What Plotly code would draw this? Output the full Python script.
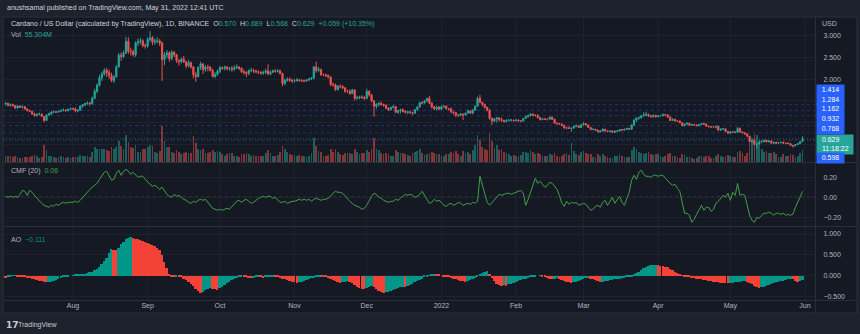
import pandas as pd
import plotly.graph_objects as go

# ---------------------------------------------------------------------------
# ADA/USD daily bars, 2021-07-04 .. 2022-05-31 (one entry per day, by month)
# ---------------------------------------------------------------------------
START_DATE = "2021-07-04"
FIRST_OPEN = 1.430

CLOSE_JUL = [1.445, 1.393, 1.418, 1.393, 1.338, 1.386, 1.352, 1.372, 1.315, 1.275,
             1.264, 1.204, 1.164, 1.196, 1.200, 1.145, 1.051, 1.178, 1.202, 1.246,
             1.250, 1.244, 1.263, 1.286, 1.291, 1.278, 1.310, 1.322]
CLOSE_AUG = [1.318, 1.270, 1.290, 1.382, 1.410, 1.440, 1.455, 1.440, 1.560, 1.720,
             1.860, 2.030, 2.120, 2.200, 2.150, 2.080, 1.970, 2.050, 2.280, 2.550,
             2.520, 2.600, 2.870, 2.640, 2.630, 2.560, 2.830, 2.860, 2.880, 2.770,
             2.760]
CLOSE_SEP = [2.910, 2.950, 2.850, 2.870, 2.880, 2.830, 2.450, 2.560, 2.600, 2.470,
             2.620, 2.560, 2.420, 2.400, 2.460, 2.400, 2.300, 2.380, 2.280, 2.100,
             2.060, 2.270, 2.350, 2.220, 2.280, 2.270, 2.200, 2.060, 2.110, 2.180]
CLOSE_OCT = [2.260, 2.250, 2.280, 2.240, 2.250, 2.230, 2.260, 2.280, 2.250, 2.170,
             2.160, 2.130, 2.200, 2.200, 2.180, 2.170, 2.160, 2.140, 2.150, 2.190,
             2.120, 2.160, 2.190, 2.180, 2.190, 2.130, 1.900, 1.970, 2.000, 1.970,
             1.960]
CLOSE_NOV = [1.970, 1.980, 1.970, 1.960, 1.960, 1.980, 2.000, 2.020, 2.280, 2.200,
             2.220, 2.100, 2.100, 2.080, 2.050, 1.880, 1.870, 1.760, 1.840, 1.830,
             1.800, 1.720, 1.720, 1.670, 1.750, 1.560, 1.570, 1.590, 1.580, 1.560]
CLOSE_DEC = [1.720, 1.640, 1.500, 1.380, 1.420, 1.440, 1.420, 1.400, 1.330, 1.300,
             1.350, 1.370, 1.240, 1.280, 1.300, 1.260, 1.240, 1.250, 1.230, 1.220,
             1.300, 1.360, 1.460, 1.450, 1.500, 1.560, 1.450, 1.360, 1.320, 1.360,
             1.310]
CLOSE_JAN = [1.370, 1.380, 1.320, 1.320, 1.250, 1.230, 1.180, 1.170, 1.200, 1.180,
             1.220, 1.270, 1.220, 1.290, 1.380, 1.560, 1.470, 1.420, 1.350, 1.290,
             1.100, 1.040, 1.090, 1.110, 1.070, 1.050, 1.030, 1.060, 1.060, 1.060,
             1.050]
CLOSE_FEB = [1.060, 1.040, 1.040, 1.100, 1.140, 1.160, 1.200, 1.170, 1.170, 1.120,
             1.070, 1.090, 1.080, 1.080, 1.130, 1.080, 0.990, 0.980, 0.970, 0.940,
             0.880, 0.880, 0.870, 0.880, 0.920, 0.930, 0.890, 0.950]
CLOSE_MAR = [0.980, 0.950, 0.890, 0.840, 0.850, 0.830, 0.790, 0.810, 0.850, 0.810,
             0.800, 0.810, 0.780, 0.810, 0.810, 0.840, 0.830, 0.850, 0.870, 0.850,
             0.950, 1.060, 1.110, 1.120, 1.160, 1.180, 1.190, 1.150, 1.140, 1.170,
             1.140]
CLOSE_APR = [1.160, 1.160, 1.190, 1.180, 1.130, 1.050, 1.080, 1.040, 1.040, 1.000,
             0.930, 0.970, 0.990, 0.940, 0.960, 0.950, 0.930, 0.960, 0.980, 0.960,
             0.920, 0.910, 0.900, 0.900, 0.920, 0.830, 0.850, 0.860, 0.800, 0.760]
CLOSE_MAY = [0.790, 0.790, 0.780, 0.870, 0.790, 0.770, 0.740, 0.690, 0.570, 0.600,
             0.500, 0.510, 0.560, 0.570, 0.600, 0.560, 0.580, 0.530, 0.550, 0.530,
             0.540, 0.550, 0.530, 0.530, 0.520, 0.480, 0.470, 0.500, 0.520, 0.570,
             0.629]

HIGH_JUL = [1.48, 1.46, 1.44, 1.44, 1.40, 1.40, 1.40, 1.39, 1.38, 1.33,
            1.30, 1.27, 1.23, 1.21, 1.23, 1.21, 1.15, 1.19, 1.23, 1.26,
            1.28, 1.27, 1.28, 1.30, 1.33, 1.31, 1.32, 1.35]
HIGH_AUG = [1.35, 1.35, 1.31, 1.40, 1.43, 1.46, 1.49, 1.48, 1.60, 1.78,
            1.90, 2.10, 2.17, 2.25, 2.26, 2.22, 2.15, 2.10, 2.32, 2.60,
            2.62, 2.66, 2.97, 2.96, 2.72, 2.68, 2.87, 2.93, 2.95, 2.92,
            2.82]
HIGH_SEP = [2.96, 3.10, 2.99, 2.93, 2.96, 2.92, 2.86, 2.62, 2.67, 2.64,
            2.66, 2.64, 2.58, 2.46, 2.50, 2.53, 2.42, 2.44, 2.40, 2.30,
            2.17, 2.29, 2.40, 2.37, 2.32, 2.33, 2.30, 2.24, 2.16, 2.22]
HIGH_OCT = [2.30, 2.29, 2.31, 2.30, 2.28, 2.30, 2.32, 2.34, 2.30, 2.27,
            2.22, 2.18, 2.22, 2.26, 2.24, 2.22, 2.20, 2.18, 2.20, 2.24,
            2.34, 2.20, 2.22, 2.23, 2.23, 2.22, 2.15, 2.01, 2.04, 2.04,
            2.01]
HIGH_NOV = [2.00, 2.03, 2.01, 2.00, 1.99, 2.00, 2.03, 2.05, 2.30, 2.40,
            2.28, 2.24, 2.13, 2.13, 2.11, 2.06, 1.92, 1.90, 1.86, 1.88,
            1.86, 1.82, 1.76, 1.77, 1.78, 1.77, 1.62, 1.62, 1.63, 1.61]
HIGH_DEC = [1.78, 1.74, 1.66, 1.52, 1.45, 1.48, 1.49, 1.44, 1.42, 1.36,
            1.37, 1.40, 1.38, 1.29, 1.32, 1.33, 1.29, 1.27, 1.28, 1.25,
            1.31, 1.38, 1.48, 1.49, 1.52, 1.57, 1.62, 1.47, 1.39, 1.38,
            1.38]
HIGH_JAN = [1.39, 1.40, 1.40, 1.34, 1.35, 1.26, 1.25, 1.20, 1.22, 1.21,
            1.23, 1.30, 1.29, 1.31, 1.40, 1.60, 1.64, 1.48, 1.44, 1.37,
            1.31, 1.12, 1.11, 1.13, 1.13, 1.12, 1.07, 1.08, 1.08, 1.08,
            1.07]
HIGH_FEB = [1.08, 1.08, 1.06, 1.11, 1.17, 1.18, 1.22, 1.21, 1.19, 1.19,
            1.13, 1.10, 1.10, 1.09, 1.14, 1.14, 1.09, 1.01, 1.00, 0.98,
            0.95, 0.91, 0.92, 0.89, 0.93, 0.96, 0.94, 0.97]
HIGH_MAR = [1.01, 0.99, 0.96, 0.90, 0.87, 0.86, 0.84, 0.83, 0.87, 0.86,
            0.83, 0.83, 0.82, 0.82, 0.83, 0.85, 0.86, 0.86, 0.88, 0.88,
            0.96, 1.08, 1.12, 1.14, 1.17, 1.24, 1.25, 1.21, 1.18, 1.19,
            1.18]
HIGH_APR = [1.17, 1.18, 1.21, 1.20, 1.19, 1.14, 1.10, 1.09, 1.06, 1.05,
            1.01, 0.98, 1.00, 1.00, 0.97, 0.97, 0.96, 0.97, 0.99, 1.00,
            0.99, 0.93, 0.92, 0.91, 0.93, 0.93, 0.87, 0.88, 0.87, 0.81]
HIGH_MAY = [0.80, 0.81, 0.80, 0.90, 0.89, 0.80, 0.78, 0.75, 0.70, 0.65,
            0.62, 0.53, 0.60, 0.60, 0.61, 0.61, 0.60, 0.59, 0.56, 0.57,
            0.55, 0.56, 0.57, 0.54, 0.55, 0.53, 0.49, 0.50, 0.53, 0.58,
            0.689]

LOW_JUL = [1.40, 1.38, 1.37, 1.37, 1.32, 1.32, 1.34, 1.33, 1.30, 1.26,
           1.24, 1.18, 1.14, 1.14, 1.17, 1.13, 1.02, 1.04, 1.15, 1.18,
           1.22, 1.22, 1.23, 1.25, 1.26, 1.25, 1.26, 1.30]
LOW_AUG = [1.29, 1.24, 1.24, 1.27, 1.34, 1.38, 1.41, 1.39, 1.41, 1.54,
           1.68, 1.83, 1.96, 2.08, 2.05, 2.01, 1.93, 1.91, 2.04, 2.27,
           2.42, 2.48, 2.58, 2.58, 2.54, 2.52, 2.51, 2.76, 2.80, 2.73,
           2.70]
LOW_SEP = [2.72, 2.86, 2.78, 2.79, 2.82, 2.76, 1.96, 2.32, 2.48, 2.40,
           2.43, 2.51, 2.37, 2.31, 2.36, 2.37, 2.25, 2.27, 2.24, 2.02,
           1.94, 2.04, 2.21, 2.12, 2.17, 2.18, 2.18, 2.04, 2.02, 2.08]
LOW_OCT = [2.14, 2.21, 2.20, 2.20, 2.19, 2.17, 2.19, 2.23, 2.21, 2.14,
           2.10, 2.05, 2.09, 2.16, 2.14, 2.13, 2.12, 2.10, 2.10, 2.12,
           2.09, 2.09, 2.14, 2.15, 2.15, 2.11, 1.84, 1.86, 1.94, 1.94,
           1.91]
LOW_NOV = [1.92, 1.94, 1.94, 1.93, 1.93, 1.94, 1.96, 1.98, 2.01, 2.15,
           2.17, 2.08, 2.07, 2.05, 2.02, 1.84, 1.83, 1.73, 1.74, 1.79,
           1.77, 1.69, 1.68, 1.64, 1.66, 1.51, 1.53, 1.54, 1.55, 1.52]
LOW_DEC = [1.54, 1.60, 1.47, 1.14, 1.32, 1.37, 1.39, 1.37, 1.31, 1.27,
           1.28, 1.33, 1.22, 1.20, 1.22, 1.24, 1.21, 1.20, 1.21, 1.18,
           1.20, 1.28, 1.35, 1.42, 1.44, 1.48, 1.43, 1.33, 1.29, 1.29,
           1.29]
LOW_JAN = [1.30, 1.34, 1.30, 1.28, 1.22, 1.19, 1.13, 1.13, 1.15, 1.06,
           1.16, 1.21, 1.20, 1.20, 1.27, 1.37, 1.45, 1.38, 1.33, 1.26,
           1.07, 0.95, 1.01, 1.00, 1.03, 1.02, 1.00, 1.01, 1.03, 1.03,
           1.02]
LOW_FEB = [1.03, 1.03, 1.01, 1.03, 1.09, 1.12, 1.15, 1.15, 1.14, 1.10,
           1.05, 1.06, 1.06, 1.05, 1.07, 1.07, 0.98, 0.96, 0.95, 0.93,
           0.86, 0.85, 0.86, 0.79, 0.86, 0.90, 0.88, 0.88]
LOW_MAR = [0.93, 0.94, 0.88, 0.83, 0.83, 0.81, 0.78, 0.78, 0.80, 0.80,
           0.78, 0.79, 0.77, 0.77, 0.79, 0.80, 0.82, 0.82, 0.84, 0.84,
           0.84, 0.93, 1.02, 1.07, 1.09, 1.14, 1.15, 1.13, 1.12, 1.12,
           1.12]
LOW_APR = [1.12, 1.14, 1.15, 1.15, 1.11, 1.04, 1.04, 1.03, 1.03, 0.99,
           0.92, 0.92, 0.95, 0.93, 0.93, 0.94, 0.92, 0.92, 0.95, 0.95,
           0.91, 0.89, 0.89, 0.88, 0.87, 0.82, 0.82, 0.84, 0.79, 0.75]
LOW_MAY = [0.75, 0.76, 0.76, 0.77, 0.77, 0.76, 0.73, 0.67, 0.55, 0.53,
           0.48, 0.40, 0.49, 0.54, 0.55, 0.55, 0.55, 0.52, 0.51, 0.51,
           0.52, 0.53, 0.52, 0.51, 0.51, 0.47, 0.43, 0.46, 0.49, 0.51,
           0.568]

# daily volume, millions
VOL_JUL = [30, 28, 26, 25, 27, 24, 20, 18, 22, 24, 22, 30, 32, 26, 20, 24, 80, 55, 30, 28,
           22, 18, 22, 26, 24, 20, 22, 20]
VOL_AUG = [22, 25, 24, 32, 30, 28, 26, 22, 48, 70, 62, 60, 58, 62, 55, 52, 68, 60, 70, 95,
           72, 60, 125, 92, 70, 64, 80, 48, 45, 62, 58]
VOL_SEP = [70, 80, 72, 45, 42, 50, 165, 95, 70, 68, 48, 40, 55, 45, 38, 42, 45, 40, 42, 118,
           90, 62, 55, 58, 42, 40, 45, 55, 45, 50]
VOL_OCT = [48, 38, 30, 36, 40, 42, 30, 28, 25, 38, 35, 40, 38, 30, 34, 28, 30, 28, 30, 42,
           55, 40, 30, 28, 32, 45, 76, 60, 45, 35, 32]
VOL_NOV = [34, 30, 32, 30, 28, 24, 26, 40, 110, 75, 50, 45, 30, 28, 34, 60, 48, 58, 45, 35,
           32, 40, 42, 40, 38, 62, 45, 38, 40, 42]
VOL_DEC = [55, 48, 60, 110, 62, 55, 42, 38, 40, 35, 30, 28, 55, 48, 42, 40, 38, 32, 28, 42,
           45, 50, 60, 42, 32, 35, 40, 48, 40, 35, 38]
VOL_JAN = [30, 28, 38, 35, 48, 42, 52, 35, 30, 50, 40, 45, 35, 55, 80, 125, 100, 70, 60, 55,
           135, 95, 65, 80, 55, 60, 48, 40, 35, 30, 32]
VOL_FEB = [30, 28, 32, 45, 48, 40, 55, 45, 35, 42, 38, 28, 26, 30, 38, 32, 40, 30, 25, 28,
           38, 40, 32, 90, 50, 35, 32, 45]
VOL_MAR = [50, 40, 35, 38, 22, 22, 35, 30, 35, 30, 25, 18, 20, 28, 26, 35, 28, 25, 24, 22,
           55, 68, 58, 45, 42, 38, 40, 45, 35, 32, 38]
VOL_APR = [35, 28, 22, 30, 35, 40, 30, 28, 22, 20, 38, 32, 25, 22, 18, 16, 18, 28, 26, 24,
           30, 28, 20, 18, 30, 38, 28, 25, 30, 32]
VOL_MAY = [28, 25, 24, 45, 50, 40, 28, 42, 110, 95, 130, 125, 80, 60, 48, 50, 42, 40, 45, 38,
           25, 22, 35, 28, 30, 35, 32, 25, 30, 42, 55.304]

# Chaikin Money Flow (20)
CMF_JUL = [0.01, 0.00, 0.01, 0.00, 0.01, 0.00, 0.03, 0.07, 0.06, 0.02,
           0.07, 0.05, 0.02, -0.01, -0.04, -0.06, -0.08, -0.09, -0.10, -0.08,
           -0.09, -0.07, -0.08, -0.06, -0.05, -0.06, -0.05, -0.05]
CMF_AUG = [-0.05, -0.04, -0.05, -0.03, 0.00, 0.02, 0.05, 0.08, 0.10, 0.12,
           0.14, 0.18, 0.22, 0.25, 0.26, 0.22, 0.17, 0.18, 0.24, 0.27,
           0.22, 0.26, 0.28, 0.26, 0.23, 0.25, 0.22, 0.20, 0.21, 0.21,
           0.18]
CMF_SEP = [0.15, 0.13, 0.11, 0.12, 0.10, 0.08, 0.10, 0.06, 0.03, 0.01,
           0.00, 0.03, 0.01, 0.02, 0.00, -0.02, -0.03, -0.05, -0.06, -0.04,
           -0.05, -0.03, -0.02, -0.03, -0.02, -0.05, -0.08, -0.11, -0.12, -0.13]
CMF_OCT = [-0.12, -0.13, -0.12, -0.11, -0.12, -0.09, -0.06, -0.04, -0.03, -0.05,
           -0.03, -0.02, -0.04, -0.06, -0.05, -0.03, -0.01, 0.00, 0.01, 0.00,
           0.01, 0.01, -0.01, 0.00, -0.03, -0.05, -0.05, -0.04, -0.06, -0.05,
           -0.04]
CMF_NOV = [-0.04, -0.03, -0.02, -0.03, -0.02, -0.03, -0.02, -0.04, -0.02, -0.01,
           -0.02, -0.03, -0.02, -0.02, -0.01, 0.01, 0.04, 0.06, 0.05, 0.05,
           0.04, 0.01, -0.02, -0.04, -0.06, -0.08, -0.09, -0.10, -0.12, -0.11]
CMF_DEC = [-0.08, -0.03, 0.01, 0.04, 0.03, 0.00, -0.01, -0.03, -0.04, -0.05,
           -0.04, -0.04, -0.02, -0.03, -0.01, 0.01, 0.03, 0.02, 0.03, 0.02,
           0.00, 0.01, 0.03, 0.06, 0.02, -0.03, -0.06, -0.05, -0.02, -0.04,
           -0.03]
CMF_JAN = [-0.05, -0.08, -0.09, -0.07, -0.06, -0.08, -0.07, -0.05, -0.06, -0.08,
           -0.07, -0.06, -0.07, -0.05, -0.06, -0.04, 0.21, 0.12, 0.02, -0.05,
           -0.08, -0.05, -0.02, 0.01, 0.03, 0.02, 0.03, 0.04, 0.04, 0.03,
           0.04]
CMF_FEB = [0.05, 0.06, 0.07, 0.04, -0.08, -0.02, 0.05, 0.12, 0.19, 0.14,
           0.16, 0.13, 0.10, 0.12, 0.15, 0.14, 0.11, 0.08, 0.02, -0.06,
           -0.09, -0.04, -0.07, -0.05, -0.06, -0.05, -0.08, -0.07]
CMF_MAR = [-0.06, -0.07, -0.10, -0.13, -0.12, -0.09, -0.08, -0.10, -0.05, -0.03,
           -0.08, -0.04, 0.00, -0.06, -0.03, 0.01, -0.05, -0.08, -0.01, 0.05,
           0.17, 0.22, 0.18, 0.25, 0.27, 0.23, 0.21, 0.21, 0.20, 0.22,
           0.22]
CMF_APR = [0.21, 0.22, 0.22, 0.19, 0.16, 0.14, 0.12, 0.13, 0.09, 0.06,
           -0.05, -0.16, -0.16, -0.18, -0.25, -0.22, -0.17, -0.12, -0.08, -0.13,
           -0.10, -0.10, -0.14, -0.12, -0.06, -0.04, -0.01, 0.02, 0.00, 0.04]
CMF_MAY = [-0.03, 0.05, 0.02, 0.14, 0.02, 0.03, 0.02, -0.08, -0.18, -0.23,
           -0.25, -0.20, -0.21, -0.18, -0.16, -0.16, -0.15, -0.16, -0.18, -0.16,
           -0.16, -0.17, -0.16, -0.18, -0.17, -0.18, -0.17, -0.10, -0.05, 0.01,
           0.06]

# Awesome Oscillator
AO_JUL = [-0.06, -0.03, -0.01, 0.005, 0.012, -0.01, -0.02, -0.03, -0.04, -0.05,
          -0.06, -0.07, -0.09, -0.10, -0.12, -0.13, -0.15, -0.16, -0.15, -0.14,
          -0.12, -0.10, -0.08, -0.06, -0.04, -0.03, -0.01, 0.00]
AO_AUG = [0.01, 0.02, 0.025, 0.03, 0.04, 0.05, 0.06, 0.08, 0.10, 0.13,
          0.17, 0.22, 0.28, 0.35, 0.43, 0.55, 0.63, 0.62, 0.61, 0.67,
          0.75, 0.82, 0.87, 0.91, 0.93, 0.91, 0.89, 0.87, 0.85, 0.83,
          0.81]
AO_SEP = [0.79, 0.77, 0.74, 0.71, 0.67, 0.62, 0.50, 0.32, 0.18, 0.05,
          -0.01, -0.02, -0.01, -0.02, -0.04, -0.07, -0.10, -0.14, -0.19, -0.25,
          -0.31, -0.37, -0.41, -0.39, -0.35, -0.31, -0.29, -0.31, -0.33, -0.34]
AO_OCT = [-0.30, -0.26, -0.22, -0.18, -0.14, -0.11, -0.08, -0.06, -0.04, -0.02,
          -0.03, -0.04, -0.05, -0.06, -0.05, -0.04, -0.03, -0.04, -0.05, -0.04,
          -0.03, -0.02, -0.01, -0.02, -0.03, -0.05, -0.07, -0.09, -0.11, -0.13,
          -0.15]
AO_NOV = [-0.16, -0.17, -0.16, -0.14, -0.12, -0.10, -0.08, -0.06, -0.05, -0.03,
          -0.02, -0.025, -0.01, -0.03, -0.05, -0.08, -0.10, -0.13, -0.15, -0.17,
          -0.16, -0.14, -0.13, -0.15, -0.18, -0.22, -0.26, -0.29, -0.31, -0.33]
AO_DEC = [-0.30, -0.27, -0.25, -0.28, -0.32, -0.36, -0.39, -0.41, -0.40, -0.38,
          -0.36, -0.34, -0.32, -0.30, -0.28, -0.26, -0.27, -0.25, -0.22, -0.19,
          -0.16, -0.13, -0.10, -0.07, -0.04, -0.02, 0.01, 0.03, 0.05, 0.04,
          0.02]
AO_JAN = [0.00, -0.01, -0.02, -0.03, -0.05, -0.07, -0.09, -0.10, -0.12, -0.13,
          -0.14, -0.13, -0.11, -0.08, -0.05, -0.02, 0.02, 0.06, 0.09, 0.11,
          0.05, -0.05, -0.13, -0.19, -0.23, -0.25, -0.22, -0.24, -0.21, -0.19,
          -0.17]
AO_FEB = [-0.15, -0.13, -0.11, -0.09, -0.07, -0.05, -0.03, -0.02, -0.01, 0.00,
          0.005, -0.01, -0.03, -0.05, -0.07, -0.08, -0.07, -0.065, -0.08, -0.10,
          -0.12, -0.14, -0.16, -0.18, -0.16, -0.14, -0.12, -0.10]
AO_MAR = [-0.08, -0.06, -0.05, -0.07, -0.09, -0.11, -0.13, -0.15, -0.14, -0.13,
          -0.12, -0.11, -0.10, -0.09, -0.08, -0.07, -0.06, -0.05, -0.04, -0.02,
          -0.01, 0.02, 0.06, 0.10, 0.14, 0.18, 0.21, 0.23, 0.25, 0.26,
          0.265]
AO_APR = [0.25, 0.24, 0.23, 0.22, 0.20, 0.17, 0.14, 0.10, 0.06, 0.03,
          0.01, -0.01, -0.03, -0.04, -0.05, -0.06, -0.07, -0.08, -0.09, -0.10,
          -0.11, -0.12, -0.13, -0.14, -0.15, -0.16, -0.17, -0.175, -0.18, -0.185]
AO_MAY = [-0.18, -0.17, -0.16, -0.15, -0.14, -0.13, -0.12, -0.14, -0.17, -0.21,
          -0.25, -0.28, -0.29, -0.28, -0.26, -0.24, -0.22, -0.20, -0.18, -0.16,
          -0.14, -0.13, -0.12, -0.10, -0.09, -0.07, -0.09, -0.12, -0.14, -0.13,
          -0.111]

# horizontal price levels marked on the chart
PRICE_LEVELS = [1.414, 1.284, 1.162, 0.932, 0.768, 0.598]
COUNTDOWN = "11:18:22"

# time-axis labels
MONTH_TICKS = ["2021-08-01", "2021-09-01", "2021-10-01", "2021-11-01", "2021-12-01",
               "2022-01-01", "2022-02-01", "2022-03-01", "2022-04-01", "2022-05-01",
               "2022-06-01"]
MONTH_LABELS = ["Aug", "Sep", "Oct", "Nov", "Dec", "2022", "Feb", "Mar", "Apr", "May", "Jun"]

PRICE_TICKS = [0.5, 1.0, 1.5, 2.0, 2.5, 3.0]
PRICE_TICK_TEXT = ["", "", "", "2.000", "2.500", "3.000"]
CMF_TICKS = [-0.2, 0.0, 0.2]
CMF_TICK_TEXT = ["\u22120.20", "0.00", "0.20"]
AO_TICKS = [-0.5, 0.0, 0.5, 1.0]
AO_TICK_TEXT = ["\u22120.500", "0.000", "0.500", "1.000"]

# ---------------------------------------------------------------------------
CLOSE = (CLOSE_JUL + CLOSE_AUG + CLOSE_SEP + CLOSE_OCT + CLOSE_NOV + CLOSE_DEC
         + CLOSE_JAN + CLOSE_FEB + CLOSE_MAR + CLOSE_APR + CLOSE_MAY)
HIGH = (HIGH_JUL + HIGH_AUG + HIGH_SEP + HIGH_OCT + HIGH_NOV + HIGH_DEC
        + HIGH_JAN + HIGH_FEB + HIGH_MAR + HIGH_APR + HIGH_MAY)
LOW = (LOW_JUL + LOW_AUG + LOW_SEP + LOW_OCT + LOW_NOV + LOW_DEC
       + LOW_JAN + LOW_FEB + LOW_MAR + LOW_APR + LOW_MAY)
VOLUME = (VOL_JUL + VOL_AUG + VOL_SEP + VOL_OCT + VOL_NOV + VOL_DEC
          + VOL_JAN + VOL_FEB + VOL_MAR + VOL_APR + VOL_MAY)
CMF = (CMF_JUL + CMF_AUG + CMF_SEP + CMF_OCT + CMF_NOV + CMF_DEC
       + CMF_JAN + CMF_FEB + CMF_MAR + CMF_APR + CMF_MAY)
AO = (AO_JUL + AO_AUG + AO_SEP + AO_OCT + AO_NOV + AO_DEC
      + AO_JAN + AO_FEB + AO_MAR + AO_APR + AO_MAY)
assert len(CLOSE) == len(HIGH) == len(LOW) == len(VOLUME) == len(CMF) == len(AO)

# a 24h market: each bar opens where the previous one closed
OPEN = [FIRST_OPEN] + CLOSE[:-1]
DATES = pd.date_range(START_DATE, periods=len(CLOSE), freq="D")
DAY_MS = 86400000

# ---------------------------------------------------------------------------
# styling
W, H = 860, 334
ML, MR, MT, MB = 3, 45, 17, 34           # plot area: x 3..815, y 17..300
PW, PH = W - ML - MR, H - MT - MB

def xp(px):
    return (px - ML) / PW

def yp(py):
    return (MT + PH - py) / PH

MAIN_PX = (17, 162)
CMF_PX = (163, 226)
AO_PX = (227, 300)

PRICE_RANGE = [0.0987, 3.4267]
VOL_RANGE = [0, 670]
CMF_RANGE = [-0.287, 0.343]
AO_RANGE = [-0.583, 1.168]
X_RANGE = ["2021-07-02 22:20", "2022-06-05 03:36"]

OUTER = "#1e222d"
PANE = "#151924"
GRID = "#1f2330"
SEP = "#2a2e39"
TEXT = "#d1d4dc"
AXIS_TEXT = "#b2b5be"
UP = "#26a69a"
DOWN = "#ef5350"
UP_VOL = "rgba(38,166,154,0.5)"
DOWN_VOL = "rgba(239,83,80,0.5)"
AO_UP = "#009688"
AO_DOWN = "#f44336"
CMF_COLOR = "#43a047"
TAG_BLUE = "#2962ff"
LEVEL_LINE = "rgba(41,98,255,0.38)"
FONT = "Liberation Sans, Arial, sans-serif"
FS = 7

vol_colors = [UP_VOL if c >= o else DOWN_VOL for o, c in zip(OPEN, CLOSE)]
ao_colors = [AO_DOWN] + [AO_UP if AO[i] >= AO[i - 1] else AO_DOWN for i in range(1, len(AO))]

fig = go.Figure()
fig.add_trace(go.Bar(x=DATES, y=VOLUME, width=0.72 * DAY_MS, yaxis="y",
                     marker=dict(color=vol_colors, line_width=0), hoverinfo="skip"))
fig.add_trace(go.Candlestick(
    x=DATES, open=OPEN, high=HIGH, low=LOW, close=CLOSE, yaxis="y2",
    increasing=dict(line=dict(color=UP, width=1), fillcolor=UP),
    decreasing=dict(line=dict(color=DOWN, width=1), fillcolor=DOWN),
    whiskerwidth=0, hoverinfo="skip"))
fig.add_trace(go.Scatter(x=DATES, y=CMF, mode="lines", yaxis="y3",
                         line=dict(color=CMF_COLOR, width=1), hoverinfo="skip"))
fig.add_trace(go.Bar(x=DATES, y=AO, width=0.78 * DAY_MS, yaxis="y4",
                     marker=dict(color=ao_colors, line_width=0), hoverinfo="skip"))

axis_font = dict(family=FONT, size=FS, color=AXIS_TEXT)
common_y = dict(side="right", zeroline=False, showline=False, ticks="outside", ticklen=6,
                tickcolor="rgba(0,0,0,0)", tickfont=axis_font, showgrid=True,
                gridcolor=GRID, gridwidth=1, fixedrange=True)

fig.update_layout(
    width=W, height=H, margin=dict(l=ML, r=MR, t=MT, b=MB),
    paper_bgcolor=OUTER, plot_bgcolor="rgba(0,0,0,0)", showlegend=False,
    font=dict(family=FONT, size=FS, color=TEXT), bargap=0,
    xaxis=dict(type="date", range=X_RANGE, tickvals=MONTH_TICKS, ticktext=MONTH_LABELS,
               showgrid=False, zeroline=False, showline=False, ticks="",
               tickfont=axis_font, rangeslider=dict(visible=False), anchor="y4",
               fixedrange=True),
    yaxis=dict(domain=[yp(MAIN_PX[1]), yp(MAIN_PX[0])], range=VOL_RANGE, visible=False,
               fixedrange=True),
    yaxis2=dict(overlaying="y", range=PRICE_RANGE, tickvals=PRICE_TICKS,
                ticktext=PRICE_TICK_TEXT, anchor="x", **common_y),
    yaxis3=dict(domain=[yp(CMF_PX[1]), yp(CMF_PX[0])], range=CMF_RANGE, tickvals=CMF_TICKS,
                ticktext=CMF_TICK_TEXT, anchor="x", **common_y),
    yaxis4=dict(domain=[yp(AO_PX[1]), yp(AO_PX[0])], range=AO_RANGE, tickvals=AO_TICKS,
                ticktext=AO_TICK_TEXT, anchor="x", **common_y),
)

shapes = []
# chart frame background (plot area plus price scale and time scale)
shapes.append(dict(type="rect", xref="paper", yref="paper", x0=xp(3), x1=xp(857),
                   y0=yp(313), y1=yp(17), fillcolor=PANE, line=dict(color=SEP, width=1),
                   layer="below"))
# vertical month grid
for d in MONTH_TICKS:
    shapes.append(dict(type="line", xref="x", yref="paper", x0=d, x1=d, y0=0, y1=1,
                       line=dict(color=GRID, width=1), layer="below"))
# pane separators, price-scale border, time-scale border
for py in (162.5, 226.5, 300.5):
    shapes.append(dict(type="line", xref="paper", yref="paper", x0=xp(3), x1=xp(857),
                       y0=yp(py), y1=yp(py), line=dict(color=SEP, width=1), layer="below"))
shapes.append(dict(type="line", xref="paper", yref="paper", x0=xp(815.5), x1=xp(815.5),
                   y0=yp(313), y1=yp(17), line=dict(color=SEP, width=1), layer="below"))
# marked price levels
for lv in PRICE_LEVELS:
    shapes.append(dict(type="line", xref="paper", yref="y2", x0=0, x1=1, y0=lv, y1=lv,
                       line=dict(color=LEVEL_LINE, width=1, dash="3px,3px"), layer="below"))
# last price line
LAST = CLOSE[-1]
shapes.append(dict(type="line", xref="paper", yref="y2", x0=0, x1=1, y0=LAST, y1=LAST,
                   line=dict(color="rgba(38,166,154,0.6)", width=1, dash="1px,2px"),
                   layer="below"))
# CMF zero line
shapes.append(dict(type="line", xref="paper", yref="y3", x0=0, x1=1, y0=0, y1=0,
                   line=dict(color="#787b86", width=1, dash="3px,3px"), layer="below"))
fig.update_layout(shapes=shapes)


def price_px(p):
    return MAIN_PX[0] + (PRICE_RANGE[1] - p) / (PRICE_RANGE[1] - PRICE_RANGE[0]) * (MAIN_PX[1] - MAIN_PX[0])


ann = []


def label(px, py, text, size=FS, color=TEXT, family=FONT, xanchor="left"):
    ann.append(dict(xref="paper", yref="paper", x=xp(px), y=yp(py), text=text,
                    showarrow=False, xanchor=xanchor, yanchor="middle", borderpad=0,
                    font=dict(family=family, size=size, color=color)))


def span(txt, color):
    return f'<span style="color:{color}">{txt}</span>'


NB = "\u00a0"
o, h, l, c = OPEN[-1], HIGH[-1], LOW[-1], CLOSE[-1]
chg = c - CLOSE[-2]
pct = chg / CLOSE[-2] * 100

label(6, 8, "anushsamal published on TradingView.com, May 31, 2022 12:41 UTC")
label(10, 24.5,
      "Cardano / US Dollar (calculated by TradingView), 1D, BINANCE" + NB * 2
      + "O" + span(f"{o:.3f}", UP) + NB * 2 + "H" + span(f"{h:.3f}", UP) + NB * 2
      + "L" + span(f"{l:.3f}", UP) + NB * 2 + "C" + span(f"{c:.3f}", UP) + NB * 2
      + span(f"+{chg:.3f} (+{pct:.2f}%)", UP))
label(10, 34, "Vol" + NB * 2 + span(f"{VOLUME[-1]:.3f}M", UP), color=AXIS_TEXT)
label(10, 170.5, "CMF (20)" + NB * 2 + span(f"{CMF[-1]:.2f}", CMF_COLOR), color=AXIS_TEXT)
ao_txt = f"{AO[-1]:.3f}".replace("-", "\u2212")
label(10, 239, "AO" + NB * 2 + span(ao_txt, AO_UP if ao_colors[-1] == AO_UP else AO_DOWN),
      color=AXIS_TEXT)
label(821, 24, "USD", color=AXIS_TEXT)
# footer brand
label(5, 324.5, "<b>17</b>", size=9, color="#c8cad0", family="DejaVu Sans, sans-serif")
label(17, 324.5, "TradingView", size=7, color="#c8cad0")

# price-scale tags, stacked so they never overlap
TAG_H = 9.8
cur_top = price_px(LAST) - TAG_H / 2
cur_bot = cur_top + 2 * TAG_H - 0.8
ann.append(dict(xref="paper", yref="paper", x=1, xshift=1, xanchor="left",
                y=yp(cur_top), yanchor="top", showarrow=False,
                text=NB * 2 + f"{LAST:.3f}<br>" + NB * 2 + COUNTDOWN, align="left",
                bgcolor=UP, borderpad=1, width=34, height=TAG_H * 2 - 2.8,
                font=dict(family=FONT, size=FS, color="#ffffff")))
prev = cur_top
for lv in sorted([v for v in PRICE_LEVELS if v > LAST]):
    cy = min(price_px(lv), prev - TAG_H / 2)
    prev = cy - TAG_H / 2
    ann.append(dict(xref="paper", yref="paper", x=1, xshift=1, xanchor="left",
                    y=yp(cy), yanchor="middle", showarrow=False, text=f"{lv:.3f}",
                    bgcolor=TAG_BLUE, borderpad=1, width=25, height=TAG_H - 2,
                    font=dict(family=FONT, size=FS, color="#ffffff")))
prev = cur_bot
for lv in sorted([v for v in PRICE_LEVELS if v < LAST], reverse=True):
    cy = max(price_px(lv), prev + TAG_H / 2)
    prev = cy + TAG_H / 2
    ann.append(dict(xref="paper", yref="paper", x=1, xshift=1, xanchor="left",
                    y=yp(cy), yanchor="middle", showarrow=False, text=f"{lv:.3f}",
                    bgcolor=TAG_BLUE, borderpad=1, width=25, height=TAG_H - 2,
                    font=dict(family=FONT, size=FS, color="#ffffff")))

fig.update_layout(annotations=ann)
fig.write_html("out.html")
